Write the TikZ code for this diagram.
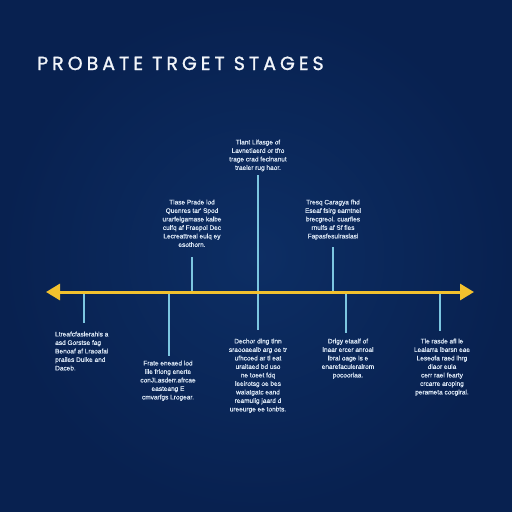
\documentclass[tikz,border=0pt]{standalone}
\usepackage{fontspec}
\setmainfont{Liberation Sans}
\newfontfamily\titlefont{Poppins}[LetterSpace=21, FakeBold=1.2]
\newfontfamily\descfont{Liberation Sans}[FakeBold=0.6]
\usetikzlibrary{arrows.meta}
\definecolor{bgdark}{HTML}{082150}
\definecolor{bglight}{HTML}{0D2E64}
\definecolor{axisyellow}{HTML}{F2C12E}
\definecolor{tickcyan}{HTML}{7CC6E0}
\definecolor{desctext}{HTML}{DCE8F6}
\definecolor{titletext}{HTML}{F2F5FA}
\begin{document}
\begin{tikzpicture}[x=1pt,y=-1pt,
  desc/.style={text=desctext, font=\descfont\fontsize{6.5}{8.5}\selectfont, align=center, inner sep=0pt},
  descleft/.style={desc, align=left},
  tickline/.style={draw=tickcyan, line width=1.1pt},
  axisline/.style={draw=axisyellow, line width=3pt, {Triangle[length=14pt,width=16pt]}-{Triangle[length=14pt,width=16pt]}}]
\shade[inner color=bglight, outer color=bgdark] (0,0) rectangle (512,512);
\useasboundingbox (0,0) rectangle (512,512);

\node[anchor=base west, inner sep=0pt, text=titletext, font=\titlefont\fontsize{19}{22}\selectfont] (title) at (37,70) {PROBATE TRGET STAGES};

% axis
\coordinate (L) at (46,292);
\coordinate (R) at (474,292);
\coordinate (tD) at (84,292);
\coordinate (tE) at (169,292);
\coordinate (tB) at (192,292);
\coordinate (tA) at (258,292);
\coordinate (tC) at (333,292);
\coordinate (tG) at (346,292);
\coordinate (tH) at (440,292);
\coordinate (fEnd) at (258,330);

% upper texts
\node[desc, anchor=north] (A) at (258,139.5) {Tlant Lifasge of\\Lavnetiaerd or tfro\\trage crad fecinanut\\traeler rug haor.};
\node[desc, anchor=north] (B) at (192,199.5) {Tlase Prade lod\\Quenres tar' Spod\\urarfeigamase kalbe\\culfq af Fraepol Dec\\Lecreattreal eulq ey\\esothorn.};
\node[desc, anchor=north] (C) at (333,199.5) {Tresq Caragya fhd\\Eseaf fsirg earntnel\\brecgreol. cuarfies\\rnulfs af Sf fles\\Fapasfesulraslasi};

% lower texts
\node[descleft, anchor=north west] (D) at (55,331.5) {Ltreafcfaslerahls a\\asd Gorstse fag\\Benoaf af Lraoafai\\prailes Dulke and\\Daceb.};
\node[desc, anchor=north] (E) at (168,360.5) {Frate eneaed lod\\lile frlong enerte\\conJLasderr.afrcae\\easteang E\\cmvarfgs Lrogear.};
\node[desc, anchor=north] (F) at (258,338.5) {Dechor dlng tlnn\\sraooaealb arg oe tr\\ufhcoed ar tl eat\\uraitaed bd uso\\ne toeet fdq\\leeirotsg oe bes\\walatgatc eand\\reamulig jaard d\\ureeurge ee tonbts.};
\node[desc, anchor=north] (G) at (348,338.5) {Drigy etaalf of\\lnaar ercer anroal\\lbral oage ls e\\enarefaculeralrom\\pocoorlaa.};
\node[desc, anchor=north] (H) at (442,338.5) {Tle rasde afl le\\Lealarra lbarsn eae\\Leseofa raed lhrg\\dlaor eula\\cerr rael fearty\\crcarre aroping\\perameta cocgiral.};

% ticks
\draw[tickline, shorten <=4pt] (A.south) -- (fEnd);
\draw[tickline, shorten <=10pt] (B.south -| tB) -- (tB);
\draw[tickline, shorten <=7pt] (C.south -| tC) -- (tC);
\draw[tickline, shorten >=9pt] (tD) -- (tD |- D.north);
\draw[tickline, shorten >=5pt] (tE) -- (tE |- E.north);
\draw[tickline, shorten >=6pt] (tG) -- (tG |- G.north);
\draw[tickline, shorten >=8pt] (tH) -- (tH |- H.north);

\draw[axisline] (L) -- (R);
\end{tikzpicture}
\end{document}
